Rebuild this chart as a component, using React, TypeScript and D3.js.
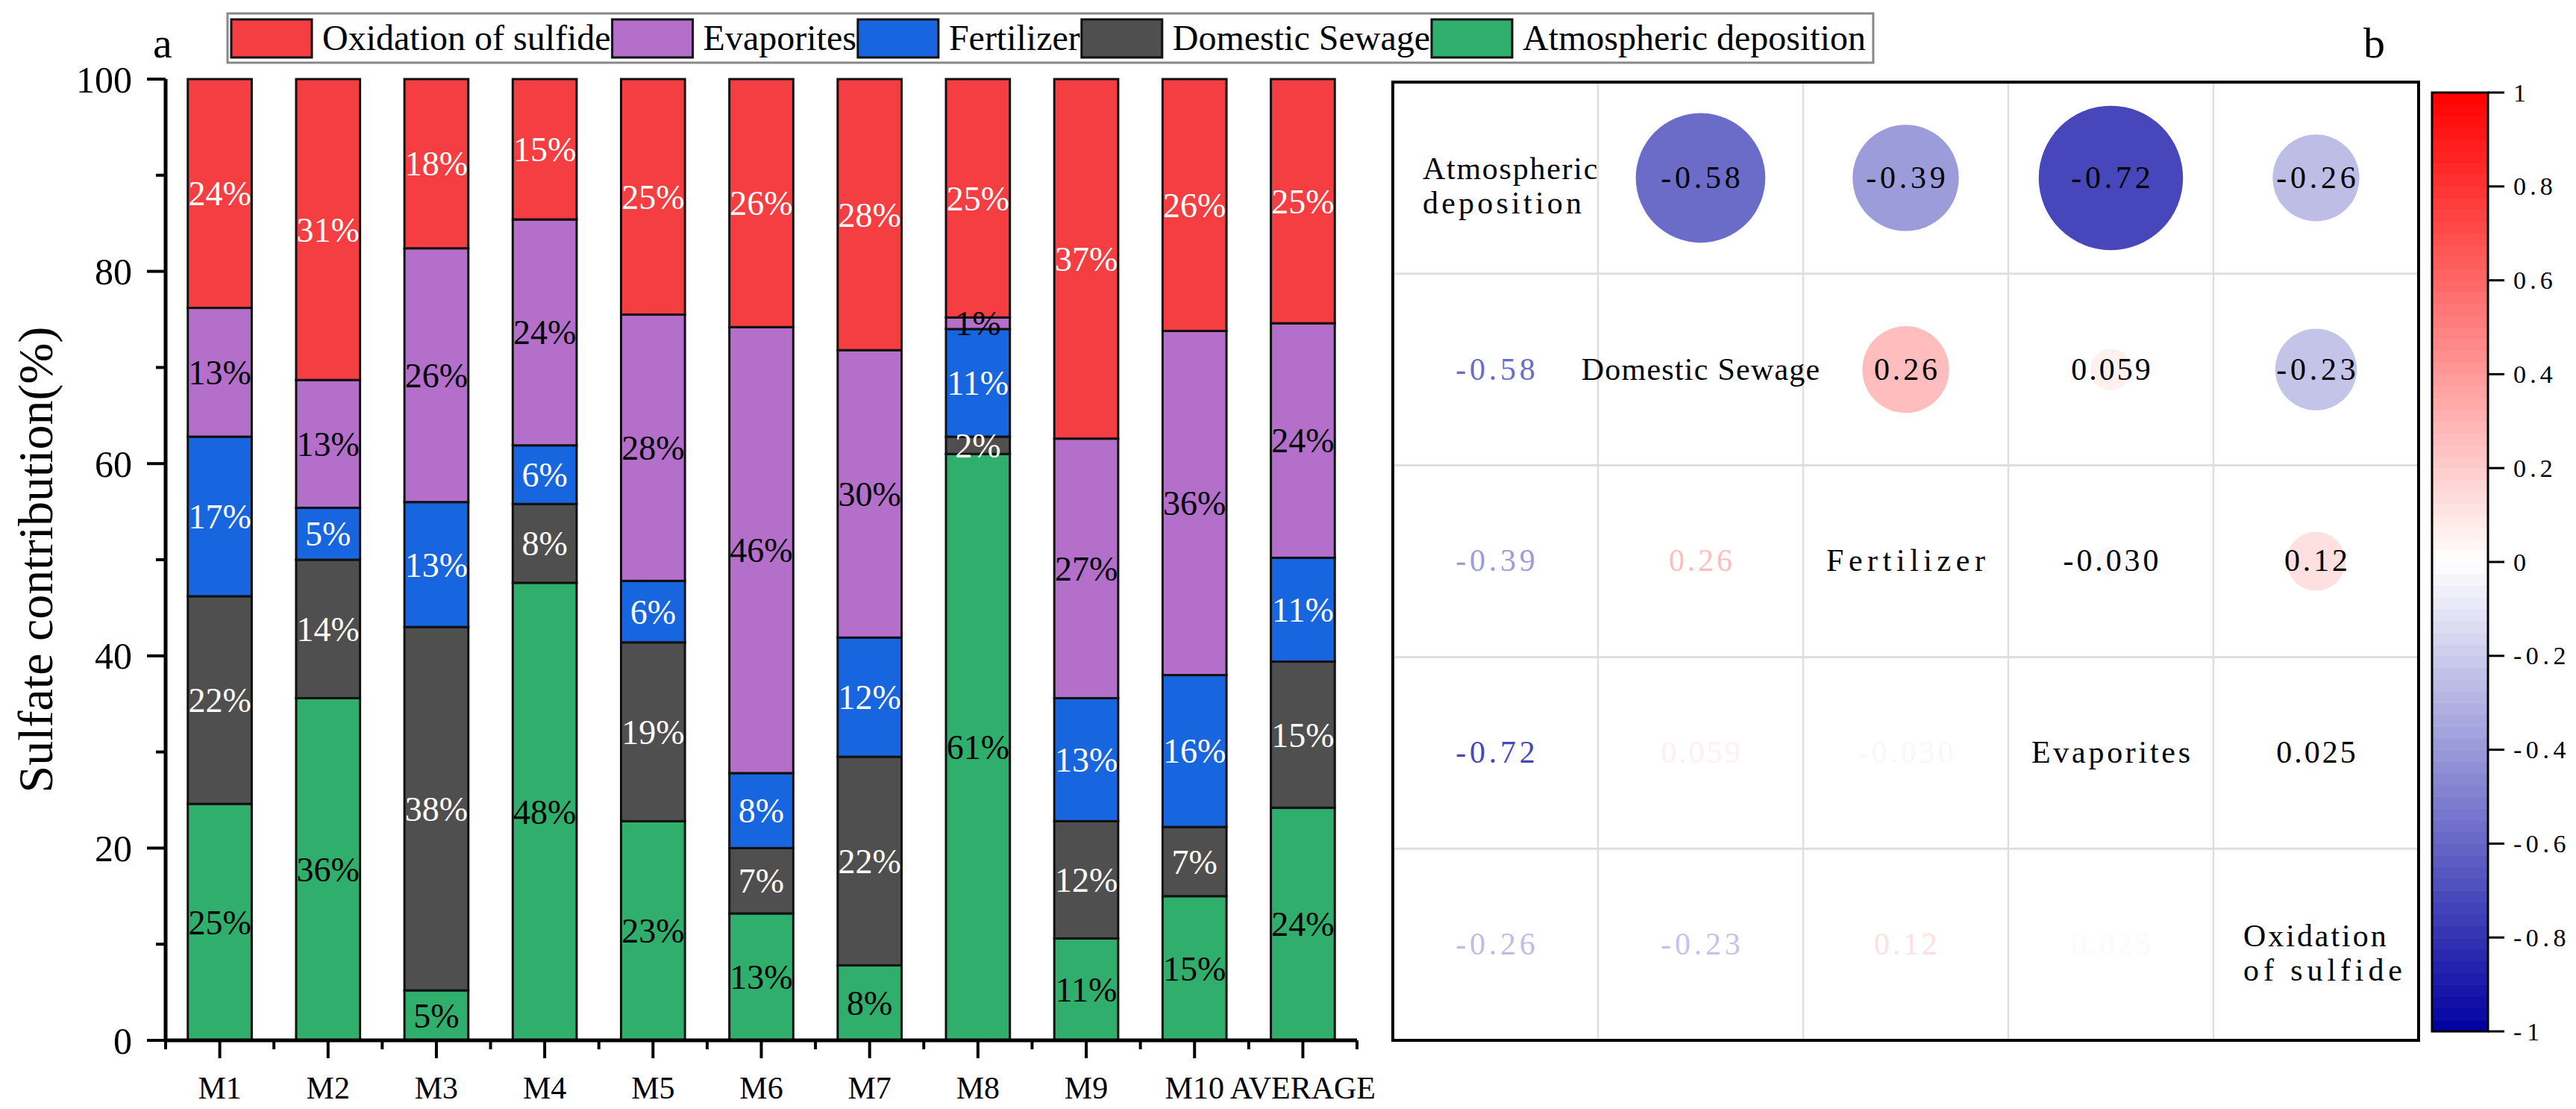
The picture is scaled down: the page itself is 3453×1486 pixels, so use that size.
import React, { useEffect, useRef } from 'react';
import * as d3 from 'd3';

// panel a: sulfate source contributions (%) per sampling site
const categories = ['M1', 'M2', 'M3', 'M4', 'M5', 'M6', 'M7', 'M8', 'M9', 'M10', 'AVERAGE'];
const atmospheric = [24.6, 35.6, 5.2, 47.6, 22.8, 13.2, 7.8, 61.0, 10.6, 15.0, 24.2];
const sewage = [21.6, 14.4, 37.8, 8.2, 18.6, 6.8, 21.7, 1.8, 12.2, 7.2, 15.2];
const fertilizer = [16.6, 5.4, 13.0, 6.1, 6.4, 7.8, 12.4, 11.2, 12.8, 15.8, 10.8];
const evaporites = [13.4, 13.3, 26.4, 23.5, 27.7, 46.4, 29.9, 1.2, 27.0, 35.8, 24.4];
const oxidation = [23.8, 31.3, 17.6, 14.6, 24.5, 25.8, 28.2, 24.8, 37.4, 26.2, 25.4];

// stack order, bottom to top
const sourceKeys = ['atmospheric', 'sewage', 'fertilizer', 'evaporites', 'oxidation'];
const sourceNames = ['Atmospheric deposition', 'Domestic Sewage', 'Fertilizer', 'Evaporites', 'Oxidation of sulfide'];
const sourceColors = ['#30ae6b', '#4f4f4f', '#1766e0', '#b46fcb', '#f53e42'];
const labelColors = ['#000', '#fff', '#fff', '#000', '#fff'];
const yTicks = [0, 20, 40, 60, 80, 100];

// panel b: correlation matrix between sources
const corrVars = ['Atmospheric deposition', 'Domestic Sewage', 'Fertilizer', 'Evaporites', 'Oxidation of sulfide'];
const corrLabelLines = [['Atmospheric', 'deposition'], ['Domestic Sewage'], ['Fertilizer'], ['Evaporites'], ['Oxidation', 'of sulfide']];
const corrMatrix = [
  [1, -0.58, -0.39, -0.72, -0.26],
  [-0.58, 1, 0.26, 0.059, -0.23],
  [-0.39, 0.26, 1, -0.030, 0.12],
  [-0.72, 0.059, -0.030, 1, 0.025],
  [-0.26, -0.23, 0.12, 0.025, 1],
];
const colorbarTicks = [1, 0.8, 0.6, 0.4, 0.2, 0, -0.2, -0.4, -0.6, -0.8, -1];

const W = 3453;
const H = 1486;

export default function App() {
  const svgRef = useRef<SVGSVGElement>(null);

  useEffect(() => {
    if (!svgRef.current) return;
    const svg = d3.select(svgRef.current);
    svg.selectAll('*').remove();

    const serif = '"Liberation Serif", "Times New Roman", serif';
    const loc = d3.formatLocale({ decimal: '.', thousands: ',', grouping: [3], currency: ['', ''], minus: '-' });
    const fmtCorr = loc.format('.2r');
    const fmtTick = loc.format('~g');

    // fixed-pitch look (like SimSun) with a serif face: spread each string over n cells
    const pitched = (sel: d3.Selection<SVGTextElement, any, any, any>, size: number, cell: number) =>
      sel
        .attr('font-family', serif)
        .attr('font-size', size)
        .attr('lengthAdjust', 'spacing')
        .each(function () {
          const t = this.textContent || '';
          d3.select(this).attr('textLength', t.length * cell);
        });

    // ---------- panel a ----------
    const plot = { left: 222, right: 1819, top: 106, bottom: 1394 };
    const x = d3.scaleBand<string>()
      .domain(categories)
      .range([plot.left, plot.right])
      .paddingInner(0.41)
      .paddingOuter(0.205);
    const y = d3.scaleLinear().domain([0, 100]).range([plot.bottom, plot.top]);

    const rows = categories.map((c, i) => ({
      category: c,
      atmospheric: atmospheric[i],
      sewage: sewage[i],
      fertilizer: fertilizer[i],
      evaporites: evaporites[i],
      oxidation: oxidation[i],
    }));
    const stacked = d3.stack<any>().keys(sourceKeys)(rows);

    const a = svg.append('g');
    stacked.forEach((series, si) => {
      a.append('g')
        .selectAll('rect')
        .data(series)
        .enter()
        .append('rect')
        .attr('x', d => x(d.data.category)!)
        .attr('y', d => y(d[1]))
        .attr('width', x.bandwidth())
        .attr('height', d => y(d[0]) - y(d[1]))
        .attr('fill', sourceColors[si])
        .attr('stroke', '#111')
        .attr('stroke-width', 3);
    });
    stacked.forEach((series, si) => {
      a.append('g')
        .selectAll('text')
        .data(series)
        .enter()
        .append('text')
        .attr('x', d => x(d.data.category)! + x.bandwidth() / 2)
        .attr('y', d => (y(d[0]) + y(d[1])) / 2)
        .attr('dy', '0.35em')
        .attr('text-anchor', 'middle')
        .attr('font-family', serif)
        .attr('font-size', 46)
        .attr('fill', labelColors[si])
        .text(d => `${Math.round(d[1] - d[0])}%`);
    });

    // axes
    const axis = a.append('g').attr('stroke', '#000');
    axis.append('line')
      .attr('x1', plot.left).attr('x2', plot.left)
      .attr('y1', plot.bottom + 2).attr('y2', plot.top)
      .attr('stroke-width', 5);
    axis.append('line')
      .attr('x1', plot.left - 2).attr('x2', plot.right)
      .attr('y1', plot.bottom).attr('y2', plot.bottom)
      .attr('stroke-width', 5);
    axis.selectAll('.ymaj').data(yTicks).enter().append('line')
      .attr('x1', plot.left).attr('x2', plot.left - 25)
      .attr('y1', d => y(d)).attr('y2', d => y(d))
      .attr('stroke-width', 4);
    axis.selectAll('.ymin').data(d3.range(10, 100, 20)).enter().append('line')
      .attr('x1', plot.left).attr('x2', plot.left - 13)
      .attr('y1', d => y(d)).attr('y2', d => y(d))
      .attr('stroke-width', 4);
    axis.selectAll('.xmaj').data(categories).enter().append('line')
      .attr('x1', d => x(d)! + x.bandwidth() / 2).attr('x2', d => x(d)! + x.bandwidth() / 2)
      .attr('y1', plot.bottom).attr('y2', plot.bottom + 24)
      .attr('stroke-width', 4);
    axis.selectAll('.xmin').data(d3.range(categories.length + 1)).enter().append('line')
      .attr('x1', i => plot.left + i * x.step()).attr('x2', i => plot.left + i * x.step())
      .attr('y1', plot.bottom).attr('y2', plot.bottom + 12)
      .attr('stroke-width', 4);

    a.selectAll('.ylab').data(yTicks).enter().append('text')
      .attr('x', plot.left - 45)
      .attr('y', d => y(d))
      .attr('dy', '0.35em')
      .attr('text-anchor', 'end')
      .attr('font-family', serif)
      .attr('font-size', 50)
      .text(d => d);
    a.selectAll('.xlab').data(categories).enter().append('text')
      .attr('x', d => x(d)! + x.bandwidth() / 2)
      .attr('y', plot.bottom + 78)
      .attr('text-anchor', 'middle')
      .attr('font-family', serif)
      .attr('font-size', 42)
      .text(d => d);
    a.append('text')
      .attr('transform', `translate(70,${(plot.top + plot.bottom) / 2}) rotate(-90)`)
      .attr('text-anchor', 'middle')
      .attr('font-family', serif)
      .attr('font-size', 66)
      .text('Sulfate contribution(%)');
    a.append('text')
      .attr('x', 205).attr('y', 77)
      .attr('font-family', serif).attr('font-size', 58)
      .text('a');

    // legend
    const leg = svg.append('g');
    const legBox = leg.append('rect')
      .attr('x', 305).attr('y', 18).attr('height', 66)
      .attr('fill', '#fff').attr('stroke', '#888').attr('stroke-width', 3);
    let lx = 310;
    d3.range(sourceNames.length - 1, -1, -1).forEach(si => {
      leg.append('rect')
        .attr('x', lx).attr('y', 26).attr('width', 108).attr('height', 51)
        .attr('fill', sourceColors[si]).attr('stroke', '#111').attr('stroke-width', 3);
      const t = leg.append('text')
        .attr('x', lx + 122).attr('y', 67)
        .attr('font-family', serif).attr('font-size', 48)
        .text(sourceNames[si]);
      const len = (t.node() as SVGTextElement).getComputedTextLength();
      lx = lx + 122 + len + 2;
    });
    legBox.attr('width', lx + 8 - 305);

    // ---------- panel b ----------
    const bx = d3.scaleBand<string>().domain(corrVars).range([1867, 3242]);
    const by = d3.scaleBand<string>().domain(corrVars).range([110, 1394]);
    const color = d3.scaleLinear<string>().domain([-1, 0, 1]).range(['#0000a0', '#ffffff', '#ff0000']);
    const r = d3.scaleSqrt().domain([0, 1]).range([0, 114]);

    const b = svg.append('g');
    corrVars.slice(1).forEach(v => {
      b.append('line')
        .attr('x1', bx(v)!).attr('x2', bx(v)!)
        .attr('y1', 110).attr('y2', 1394)
        .attr('stroke', '#dedede').attr('stroke-width', 2.5);
      b.append('line')
        .attr('x1', 1867).attr('x2', 3242)
        .attr('y1', by(v)!).attr('y2', by(v)!)
        .attr('stroke', '#dedede').attr('stroke-width', 3);
    });

    const cells = corrMatrix.flatMap((row, i) => row.map((v, j) => ({ i, j, v })));
    const cx = (j: number) => bx(corrVars[j])! + bx.bandwidth() / 2;
    const cy = (i: number) => by(corrVars[i])! + by.bandwidth() / 2;

    b.selectAll('circle')
      .data(cells.filter(c => c.j > c.i))
      .enter()
      .append('circle')
      .attr('cx', d => cx(d.j))
      .attr('cy', d => cy(d.i))
      .attr('r', d => r(Math.abs(d.v)))
      .attr('fill', d => color(d.v));

    b.selectAll('.val')
      .data(cells.filter(c => c.j !== c.i))
      .enter()
      .append('text')
      .attr('x', d => cx(d.j))
      .attr('y', d => cy(d.i))
      .attr('dy', '0.32em')
      .attr('text-anchor', 'middle')
      .attr('fill', d => (d.j > d.i ? '#000' : color(d.v)))
      .text(d => fmtCorr(d.v))
      .call(pitched, 42, 21.3);

    corrLabelLines.forEach((lines, k) => {
      const multi = lines.length > 1;
      lines.forEach((line, li) => {
        b.append('text')
          .attr('x', multi ? bx(corrVars[k])! + 40 : cx(k))
          .attr('y', multi ? cy(k) + 2 + li * 46 : cy(k))
          .attr('dy', multi ? 0 : '0.32em')
          .attr('text-anchor', multi ? 'start' : 'middle')
          .text(line)
          .call(pitched, 42, 21.3);
      });
    });

    b.append('rect')
      .attr('x', 1867).attr('y', 110).attr('width', 3242 - 1867).attr('height', 1394 - 110)
      .attr('fill', 'none').attr('stroke', '#000').attr('stroke-width', 4);

    b.append('text')
      .attr('x', 3168).attr('y', 77)
      .attr('font-family', serif).attr('font-size', 58)
      .text('b');

    // colour bar
    const cbar = { left: 3260, right: 3335, top: 124, bottom: 1382 };
    const cyScale = d3.scaleLinear().domain([-1, 1]).range([cbar.bottom, cbar.top]);
    const steps = d3.range(-1, 1, 0.025);
    b.append('g').selectAll('rect')
      .data(steps)
      .enter()
      .append('rect')
      .attr('x', cbar.left)
      .attr('width', cbar.right - cbar.left)
      .attr('y', d => cyScale(d + 0.025))
      .attr('height', cyScale(0) - cyScale(0.025) + 0.6)
      .attr('fill', d => color(d + 0.0125));
    b.append('rect')
      .attr('x', cbar.left).attr('y', cbar.top)
      .attr('width', cbar.right - cbar.left).attr('height', cbar.bottom - cbar.top)
      .attr('fill', 'none').attr('stroke', '#000').attr('stroke-width', 3);
    b.selectAll('.cbt').data(colorbarTicks).enter().append('line')
      .attr('x1', cbar.right).attr('x2', cbar.right + 22)
      .attr('y1', d => cyScale(d)).attr('y2', d => cyScale(d))
      .attr('stroke', '#000').attr('stroke-width', 3);
    b.selectAll('.cbl').data(colorbarTicks).enter().append('text')
      .attr('x', cbar.right + 34)
      .attr('y', d => cyScale(d))
      .attr('dy', '0.34em')
      .text(d => fmtTick(d))
      .call(pitched, 34, 17.6);
  }, []);

  return (
    <svg
      ref={svgRef}
      width={W}
      height={H}
      viewBox={`0 0 ${W} ${H}`}
      style={{ position: 'absolute', left: 0, top: 0, background: '#fff' }}
    />
  );
}
